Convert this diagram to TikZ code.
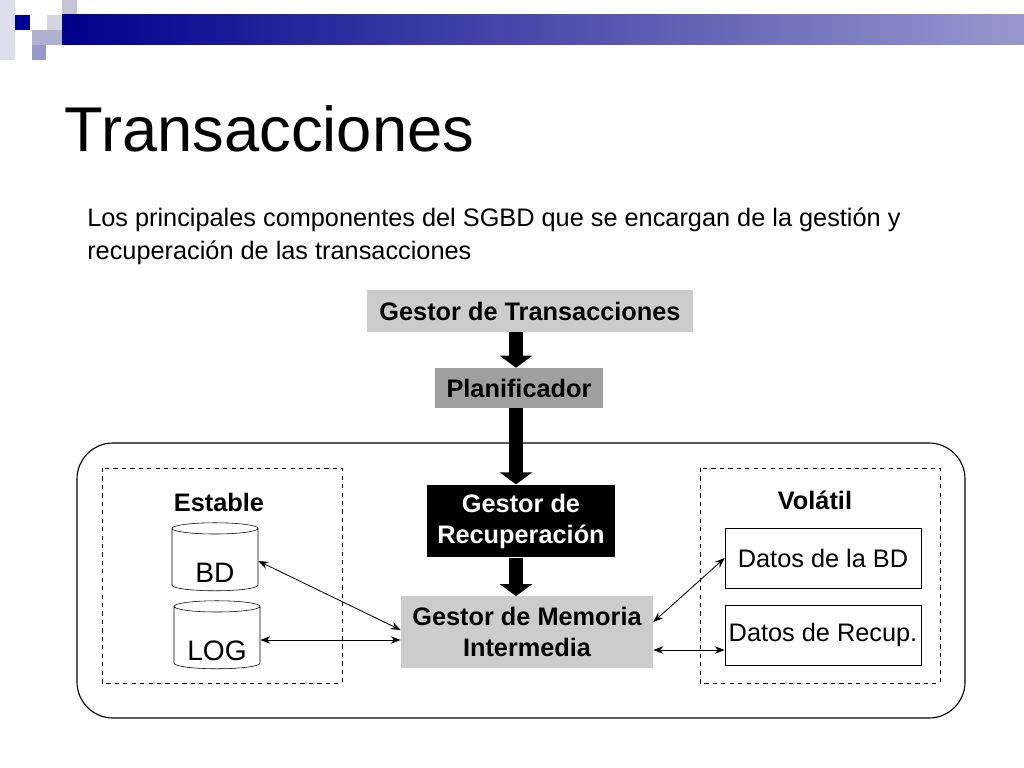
\documentclass[tikz,border=0pt]{standalone}
\usepackage{fontspec}
\setmainfont{Liberation Sans}
\usetikzlibrary{arrows.meta,shapes.geometric}

\tikzset{
  px/.style={x=0.025cm, y=-0.025cm},
  gbox/.style={fill=#1, font=\bfseries\fontsize{18}{22}\selectfont, align=center, inner sep=0pt},
  dbox/.style={draw, font=\fontsize{18}{22}\selectfont, inner sep=0pt},
  store/.style={draw, cylinder, shape border rotate=90, aspect=1.2, minimum width=2.15cm, minimum height=1.7cm,
        label={[font=\fontsize{20}{24}\selectfont, yshift=-0.3cm]center:#1}},
  bigarrow/.style={line width=0.35cm, -{Triangle[length=0.3cm, width=0.8cm]}},
  link/.style={semithick, {Stealth[length=0.25cm]}-{Stealth[length=0.25cm]}},
}

\begin{document}
\begin{tikzpicture}[px]
  \useasboundingbox (0,0) rectangle (1024,768);

  % Header ornament
  \fill[blue!15!gray!40] (62,0) rectangle (77,15);
  \fill[blue!10!gray!30] (47,15) rectangle (77,30);
  \fill[blue!25!gray!50] (32,30) rectangle (62,45);
  \fill[blue!35!gray!60] (32,45) rectangle (46,60);
  \fill[blue!30!gray!20] (0,0) rectangle (15,60);
  \fill[blue!60!black] (15,15) rectangle (30,30);
  \shade[left color=blue!55!black, right color=blue!35!gray!60] (62,15) rectangle (1024,45);

  % Title and intro text
  \node[anchor=base west, font=\fontsize{45}{54}\selectfont] (title) at (60,152) {Transacciones};
  \node[anchor=north west, align=left, font=\fontsize{18}{23}\selectfont, inner sep=0pt] (intro) at (87,208)
    {Los principales componentes del SGBD que se encargan de la gestión y\\recuperación de las transacciones};

  % Frames
  \draw[thick, rounded corners=0.9cm] (77,443) rectangle (965,718);
  \draw[dashed] (102,468) rectangle (342,683);
  \draw[dashed] (700,468) rectangle (940,683);
  \node[font=\bfseries\fontsize{18}{22}\selectfont] (estable) at (219,502) {Estable};
  \node[font=\bfseries\fontsize{18}{22}\selectfont] (volatil) at (815,500) {Volátil};

  % Components
  \node[gbox=gray!40, minimum width=8.15cm, minimum height=1.05cm] (gt) at (530,311) {Gestor de Transacciones};
  \node[gbox=gray!75, minimum width=4.2cm, minimum height=1cm] (plan) at (519,388) {Planificador};
  \node[gbox=black, text=white, minimum width=4.72cm, minimum height=1.82cm] (rec) at (521,521) {Gestor de\\Recuperación};
  \node[gbox=gray!40, minimum width=6.3cm, minimum height=1.78cm] (mem) at (527,632) {Gestor de Memoria\\Intermedia};

  \node[store=BD] (bd) at (215,561) {};
  \node[store=LOG] (log) at (217,639) {};

  \node[dbox, minimum width=4.9cm, minimum height=1.5cm] (datbd) at (823,558) {Datos de la BD};
  \node[dbox, minimum width=4.9cm, minimum height=1.5cm] (datrec) at (823,635) {Datos de Recup.};

  % Flow
  \draw[bigarrow] (gt.south -| 516,0) -- (plan.north -| 516,0);
  \draw[bigarrow] (plan.south -| 516,0) -- (rec.north -| 516,0);
  \draw[bigarrow] (rec.south -| 516,0) -- (mem.north -| 516,0);

  \draw[link] (bd.east) -- (mem.west |- 0,630);
  \draw[link] (log.east |- 0,640) -- (mem.west |- 0,640);
  \draw[link] (mem.east |- 0,622) -- (datbd.west);
  \draw[link] (mem.east |- 0,650) -- (datrec.west |- 0,650);
\end{tikzpicture}
\end{document}
